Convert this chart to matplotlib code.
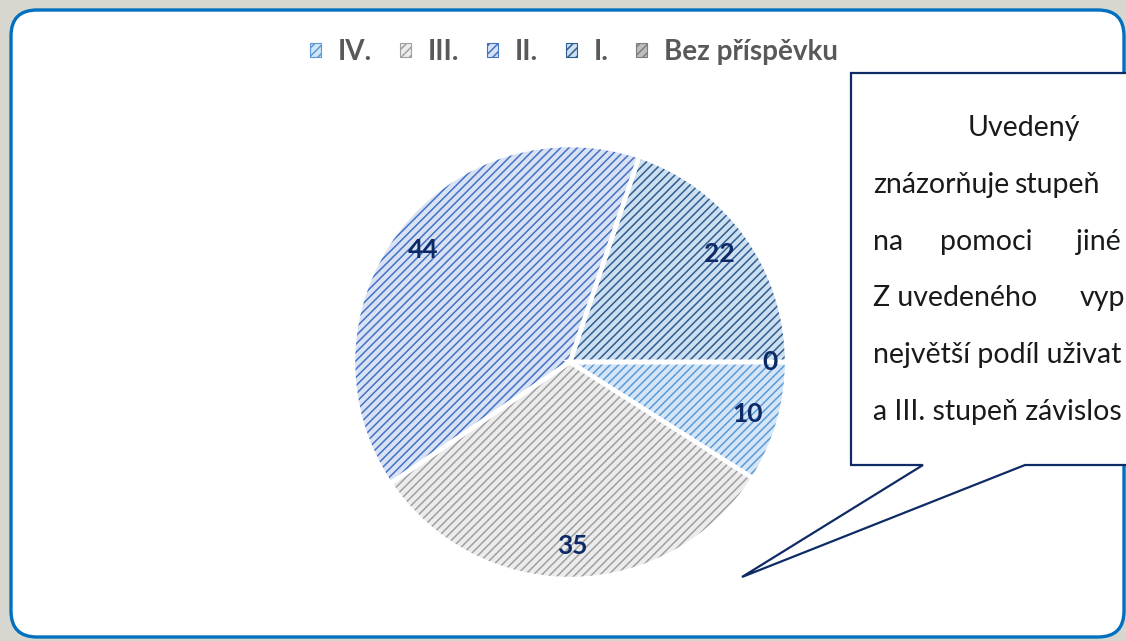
import matplotlib
matplotlib.use("Agg")
import matplotlib.pyplot as plt
from matplotlib.patches import FancyBboxPatch, Polygon, Patch
import numpy as np

plt.rcParams['font.family'] = ['Lato', 'DejaVu Sans']
plt.rcParams['hatch.linewidth'] = 1.1

# data
categories = ["IV.", "III.", "II.", "I.", "Bez příspěvku"]
values = [10, 35, 44, 22, 0]
face_colors = ["#d3e5f6", "#ececec", "#d9e2f5", "#cddff0", "#bdbdbd"]
hatch_colors = ["#5b9bd5", "#a0a0a0", "#4472c4", "#2f5f8f", "#7f7f7f"]

# callout text as it shows inside the picture (the box runs past the right edge)
callout_lines = [
    [(968, "Uvedený")],
    [(873, "znázorňuje"), (1014, "stupeň")],
    [(873, "na"), (940, "pomoci"), (1076, "jiné")],
    [(873, "Z uvedeného"), (1080, "vyp")],
    [(873, "největší podíl uživat")],
    [(873, "a III. stupeň závislos")],
]

W, H = 1126, 641
fig = plt.figure(figsize=(W / 100, H / 100), dpi=100)
fig.patch.set_facecolor("#d7d7cf")

# background layer in pixel coords
bg = fig.add_axes([0, 0, 1, 1])
bg.set_xlim(0, W)
bg.set_ylim(H, 0)
bg.axis("off")

box = FancyBboxPatch((11, 10), 1113, 627, boxstyle="round,pad=0,rounding_size=26",
                     facecolor="white", edgecolor="#0070c0", linewidth=2.4)
bg.add_patch(box)

# callout
pts = [(851, 73), (1140, 73), (1140, 465), (1025, 465), (742, 577), (923, 465), (851, 465)]
bg.add_patch(Polygon(pts, closed=True, facecolor="white", edgecolor="#0f2b66",
                     linewidth=1.6, joinstyle="miter", zorder=3))
ys = [128, 185, 242, 298, 355, 412]
for y, words in zip(ys, callout_lines):
    for x, w in words:
        bg.text(x, y, w, fontsize=20.5, color="#1a1a1a", ha="left", va="center", zorder=4)

# pie
cx, cy, r = 570, 362, 217
ax = fig.add_axes([(cx - r) / W, (H - cy - r) / H, 2 * r / W, 2 * r / H])
wedges, _ = ax.pie(values, startangle=0, counterclock=False, radius=1,
                   wedgeprops=dict(linewidth=0))
for w, fc, hc in zip(wedges, face_colors, hatch_colors):
    w.set_facecolor(fc)
    w.set_edgecolor(hc)
    w.set_hatch("////")
    w.set_linewidth(0)
# white separators
ax.pie(values, startangle=0, counterclock=False, radius=1,
       wedgeprops=dict(fill=False, edgecolor="white", linewidth=3.2))

for w, v in zip(wedges, values):
    mid = np.deg2rad((w.theta1 + w.theta2) / 2)
    d = 0.85 if v > 0 else 0.92
    ax.text(d * np.cos(mid), d * np.sin(mid), str(v), ha="center", va="center",
            fontsize=19, fontweight="bold", color="#0d2a66")
ax.set_xlim(-1, 1)
ax.set_ylim(-1, 1)
ax.set_aspect("equal")
ax.axis("off")

handles = [Patch(facecolor=fc, edgecolor=hc, hatch="////", linewidth=0.8)
           for fc, hc in zip(face_colors, hatch_colors)]
fig.legend(handles, categories, loc="center", bbox_to_anchor=(574 / W, 1 - 52 / H),
           ncol=5, frameon=False, handlelength=0.4, handleheight=0.4,
           handletextpad=0.6, columnspacing=1.0,
           prop=dict(size=20, weight="bold"), labelcolor="#595959")

fig.savefig("out.png", dpi=100)
